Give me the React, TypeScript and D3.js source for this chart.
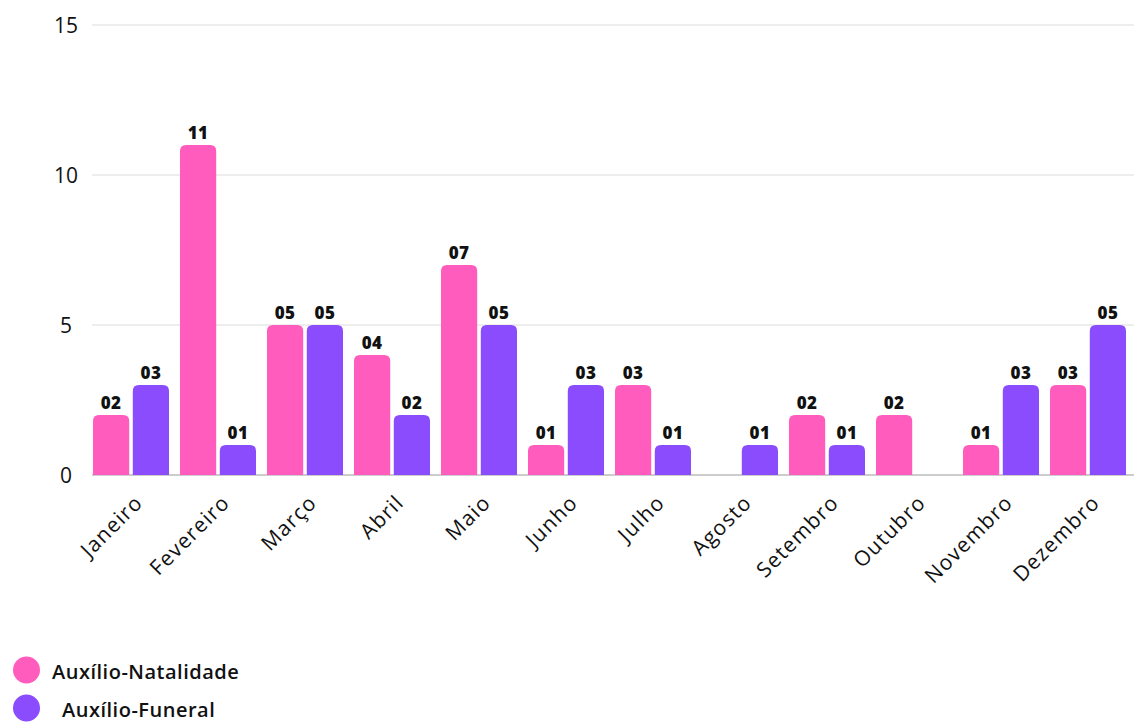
import React from "react";
import * as d3 from "d3";

const months = ["Janeiro","Fevereiro","Março","Abril","Maio","Junho","Julho","Agosto","Setembro","Outubro","Novembro","Dezembro"];
const natalidade = [2, 11, 5, 4, 7, 1, 3, 0, 2, 2, 1, 3];
const funeral = [3, 1, 5, 2, 5, 3, 1, 1, 1, 0, 3, 5];
const yTicks = [0, 5, 10, 15];
const seriesNames = ["Auxílio-Natalidade", "Auxílio-Funeral"];
const colors = ["#ff5cbe", "#8a4cfc"];

const W = 1134, H = 724;

function topRounded(x: number, y: number, w: number, h: number, r: number) {
  if (h <= 0) return "";
  const rr = Math.min(r, h, w / 2);
  return `M${x},${y + h}V${y + rr}Q${x},${y} ${x + rr},${y}H${x + w - rr}Q${x + w},${y} ${x + w},${y + rr}V${y + h}Z`;
}

export default function App() {
  const x = d3.scaleBand<string>().domain(months).range([87.5, 1131.5]).paddingInner(11 / 87).paddingOuter(5.5 / 87);
  const xs = d3.scaleBand<number>().domain([0, 1]).range([0, x.bandwidth()]).paddingInner(0.09);
  const y = d3.scaleLinear().domain([0, 15]).range([475, 25]);
  const font = "'Open Sans', sans-serif";
  const series = [natalidade, funeral];
  return (
    <svg width={W} height={H} style={{ position: "absolute", left: 0, top: 0, background: "#fff" }} fontFamily={font}>
      {yTicks.map(t => (
        <g key={t}>
          <line x1={92} x2={W} y1={y(t)} y2={y(t)} stroke={t === 0 ? "#9a9a9a" : "#dcdcdc"} strokeWidth={1} />
          <text x={66} y={y(t)} dy="0.36em" textAnchor="middle" fontSize={21} fontWeight={500} fill="#111">{t}</text>
        </g>
      ))}
      {months.map((m, i) => (
        <g key={m} transform={`translate(${x(m)},0)`}>
          {series.map((s, k) => {
            const v = s[i];
            if (!v) return null;
            const bx = xs(k)!;
            const bw = xs.bandwidth();
            return (
              <g key={k}>
                <path d={topRounded(bx, y(v), bw, y(0) - y(v), 6)} fill={colors[k]} />
                <text x={bx + bw / 2} y={y(v) - 6} textAnchor="middle" fontSize={17} fontWeight={800} letterSpacing={0.5} fill="#111">
                  {String(v).padStart(2, "0")}
                </text>
              </g>
            );
          })}
          <text
            transform={`translate(${x.bandwidth() / 2 + 13},${504}) rotate(-45)`}
            textAnchor="end"
            fontSize={21}
            fontWeight={500}
            letterSpacing={1.2}
            fill="#111"
          >{m}</text>
        </g>
      ))}
      {seriesNames.map((n, k) => (
        <g key={n}>
          <circle cx={26.5} cy={k === 0 ? 670 : 708} r={13.5} fill={colors[k]} />
          <text x={k === 0 ? 52 : 62} y={k === 0 ? 679 : 717} fontSize={20} fontWeight={600} letterSpacing={0.5} fill="#111">{n}</text>
        </g>
      ))}
    </svg>
  );
}
